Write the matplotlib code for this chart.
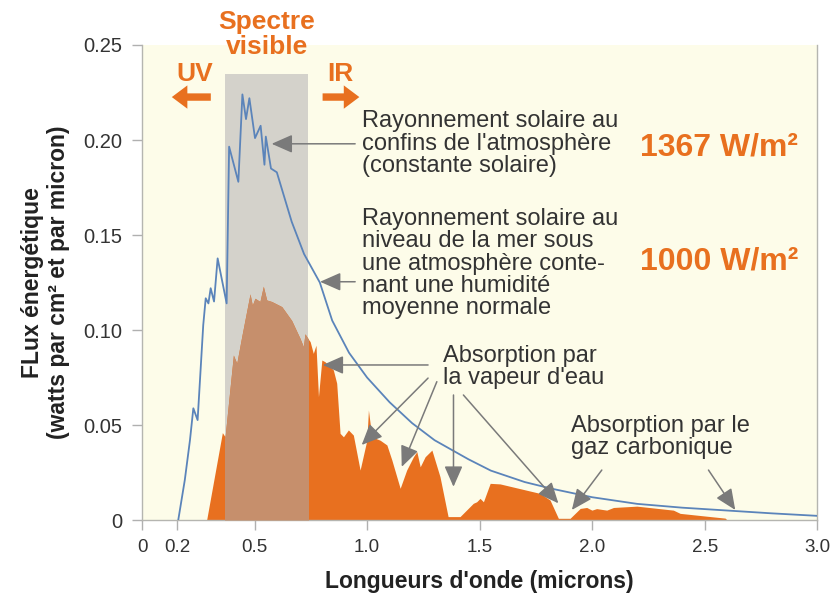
import numpy as np
import matplotlib
matplotlib.use("Agg")
import matplotlib.pyplot as plt
from matplotlib.patches import Rectangle

plt.rcParams['font.family'] = ['Liberation Sans', 'DejaVu Sans']

# rayonnement au sommet de l'atmosphere (courbe bleue)
x_toa = [0.161, 0.19, 0.213, 0.228, 0.247, 0.272, 0.283, 0.295, 0.305, 0.32, 0.336,
         0.376, 0.387, 0.428, 0.446, 0.462, 0.477, 0.502, 0.527, 0.544, 0.55, 0.573,
         0.599, 0.665, 0.72, 0.79, 0.845, 0.92, 1.0, 1.1, 1.2, 1.3, 1.45, 1.55, 1.7,
         1.82, 2.0, 2.2, 2.4, 2.6, 2.8, 3.0]
y_toa = [0.0, 0.021, 0.042, 0.0588, 0.0526, 0.1026, 0.1167, 0.114, 0.122, 0.115, 0.1377,
         0.114, 0.1965, 0.178, 0.224, 0.211, 0.222, 0.201, 0.2075, 0.187, 0.2018, 0.185,
         0.183, 0.157, 0.14, 0.125, 0.105, 0.088, 0.075, 0.062, 0.051, 0.042, 0.032, 0.026,
         0.020, 0.0165, 0.012, 0.0085, 0.0065, 0.005, 0.0035, 0.0022]

# rayonnement au niveau de la mer (surface orange)
x_sea = [0.287, 0.357, 0.369, 0.406, 0.421, 0.443, 0.48, 0.49, 0.502, 0.524, 0.539,
         0.554, 0.576, 0.621, 0.665, 0.702, 0.717, 0.724, 0.742, 0.747, 0.761, 0.773,
         0.784, 0.799, 0.813, 0.85, 0.865, 0.88, 0.895, 0.917, 0.939, 0.969, 0.999,
         1.006, 1.021, 1.058, 1.088, 1.11, 1.147, 1.176, 1.206, 1.221, 1.236, 1.258,
         1.288, 1.324, 1.36, 1.413, 1.472, 1.487, 1.502, 1.517, 1.547, 1.591, 1.769,
         1.813, 1.85, 1.902, 1.947, 1.976, 1.999, 2.02, 2.065, 2.095, 2.199, 2.361,
         2.391, 2.51, 2.591, 2.6]
y_sea = [0.0, 0.046, 0.0438, 0.0868, 0.0825, 0.0965, 0.119, 0.113, 0.1167, 0.115, 0.123,
         0.1158, 0.115, 0.1123, 0.105, 0.0956, 0.0912, 0.098, 0.0947, 0.0939, 0.0877, 0.092,
         0.0649, 0.0842, 0.0833, 0.079, 0.072, 0.0456, 0.0438, 0.0474, 0.0447, 0.0263, 0.042,
         0.0579, 0.0438, 0.042, 0.0395, 0.0316, 0.0167, 0.0263, 0.0333, 0.036, 0.028, 0.0333,
         0.0368, 0.0228, 0.0018, 0.0018, 0.0088, 0.0096, 0.0114, 0.0096, 0.0193, 0.019, 0.014,
         0.0105, 0.0009, 0.0009, 0.0061, 0.0066, 0.0052, 0.006, 0.0052, 0.0066, 0.0073, 0.0052,
         0.0035, 0.002, 0.001, 0.0]

vis_lo, vis_hi, vis_top = 0.369, 0.737, 0.2347

xticks = [0, 0.155, 0.5, 1.0, 1.5, 2.0, 2.5, 3.0]
xtick_labels = ['0', '0.2', '0.5', '1.0', '1.5', '2.0', '2.5', '3.0']
yticks = [0, 0.05, 0.10, 0.15, 0.20, 0.25]
ytick_labels = ['0', '0.05', '0.10', '0.15', '0.20', '0.25']

orange = '#e8701f'
brown = '#c68f6c'
band = '#d4d2cb'
blue = '#5b84ba'
grey = '#7a7a7a'

fig = plt.figure(figsize=(8.33, 6), dpi=100)
ax = fig.add_axes([0.1705, 0.1333, 0.8105, 0.7917])
ax.set_facecolor('#fdfce9')
ax.set_xlim(0, 3.0)
ax.set_ylim(0, 0.25)

rect = Rectangle((vis_lo, 0), vis_hi - vis_lo, vis_top, color=band, zorder=1, lw=0)
ax.add_patch(rect)
ax.fill_between(x_sea, y_sea, color=orange, lw=0, zorder=2)
clip = Rectangle((vis_lo, 0), vis_hi - vis_lo, vis_top, transform=ax.transData)
br = ax.fill_between(x_sea, y_sea, color=brown, lw=0, zorder=3)
br.set_clip_path(clip)
ax.plot(x_toa, y_toa, color=blue, lw=1.3, zorder=4)

ax.spines['top'].set_visible(False)
for s in ['left', 'bottom', 'right']:
    ax.spines[s].set_color('#b5b5b0')
    ax.spines[s].set_linewidth(1.0)

ax.set_xticks(xticks)
ax.set_xticklabels(xtick_labels)
ax.set_yticks(yticks)
ax.set_yticklabels(ytick_labels)
ax.tick_params(axis='both', colors='#b0b0b0', labelcolor='#333333',
               length=7, width=1.0, direction='out', pad=7)
ax.tick_params(axis='x', labelsize=13.5)
ax.tick_params(axis='y', labelsize=14.5, pad=7)

ax.set_xlabel("Longueurs d'onde (microns)", fontsize=16.5, fontweight='bold',
              color='#222222', labelpad=10)
ax.set_ylabel("FLux énergétique\n(watts par cm² et par micron)", fontsize=16.5,
              fontweight='bold', color='#222222', labelpad=10, linespacing=1.15)

# titres en orange
ax.text(0.554, 0.2556, "Spectre\nvisible", ha='center', va='center', color=orange,
        fontsize=19, fontweight='bold', linespacing=1.05, clip_on=False)
ax.text(0.236, 0.2345, "UV", ha='center', va='center', color=orange, fontsize=19,
        fontweight='bold')
ax.text(0.88, 0.2345, "IR", ha='center', va='center', color=orange, fontsize=19,
        fontweight='bold')
big_arrow = dict(arrowstyle='simple,head_width=1.2,head_length=0.8,tail_width=0.38',
                 color=orange, lw=0, mutation_scale=14)
ax.annotate('', xy=(0.12, 0.2226), xytext=(0.318, 0.2226), arrowprops=big_arrow)
ax.annotate('', xy=(0.978, 0.2226), xytext=(0.79, 0.2226), arrowprops=big_arrow)

txt = dict(fontsize=17, color='#333333', va='center', ha='left', linespacing=1.02)
ax.text(0.978, 0.198, "Rayonnement solaire au\nconfins de l'atmosphère\n(constante solaire)", **txt)
ax.text(0.978, 0.135, "Rayonnement solaire au\nniveau de la mer sous\nune atmosphère conte-\n"
        "nant une humidité\nmoyenne normale", **txt)
ax.text(1.338, 0.0805, "Absorption par\nla vapeur d'eau", **txt)
ax.text(1.907, 0.0437, "Absorption par le\ngaz carbonique", **txt)

ax.text(2.213, 0.196, "1367 W/m²", fontsize=23, fontweight='bold', color=orange,
        va='center', ha='left')
ax.text(2.213, 0.136, "1000 W/m²", fontsize=23, fontweight='bold', color=orange,
        va='center', ha='left')

arr = dict(arrowstyle='-|>,head_width=0.33,head_length=0.75', color=grey, lw=1.1,
           mutation_scale=17, shrinkA=0, shrinkB=0)
arrows = [((0.947, 0.198), (0.576, 0.198)),
          ((0.947, 0.1254), (0.791, 0.1254)),
          ((1.271, 0.0816), (0.803, 0.0816)),
          ((1.271, 0.0747), (0.976, 0.0395)),
          ((1.31, 0.0728), (1.154, 0.028)),
          ((1.384, 0.0658), (1.384, 0.0175)),
          ((1.428, 0.0658), (1.85, 0.0088)),
          ((2.043, 0.0263), (1.91, 0.0053)),
          ((2.517, 0.0263), (2.636, 0.0053))]
for start, end in arrows:
    ax.annotate('', xy=end, xytext=start, arrowprops=arr, zorder=5)

fig.savefig('out.png', dpi=100, facecolor='white')
